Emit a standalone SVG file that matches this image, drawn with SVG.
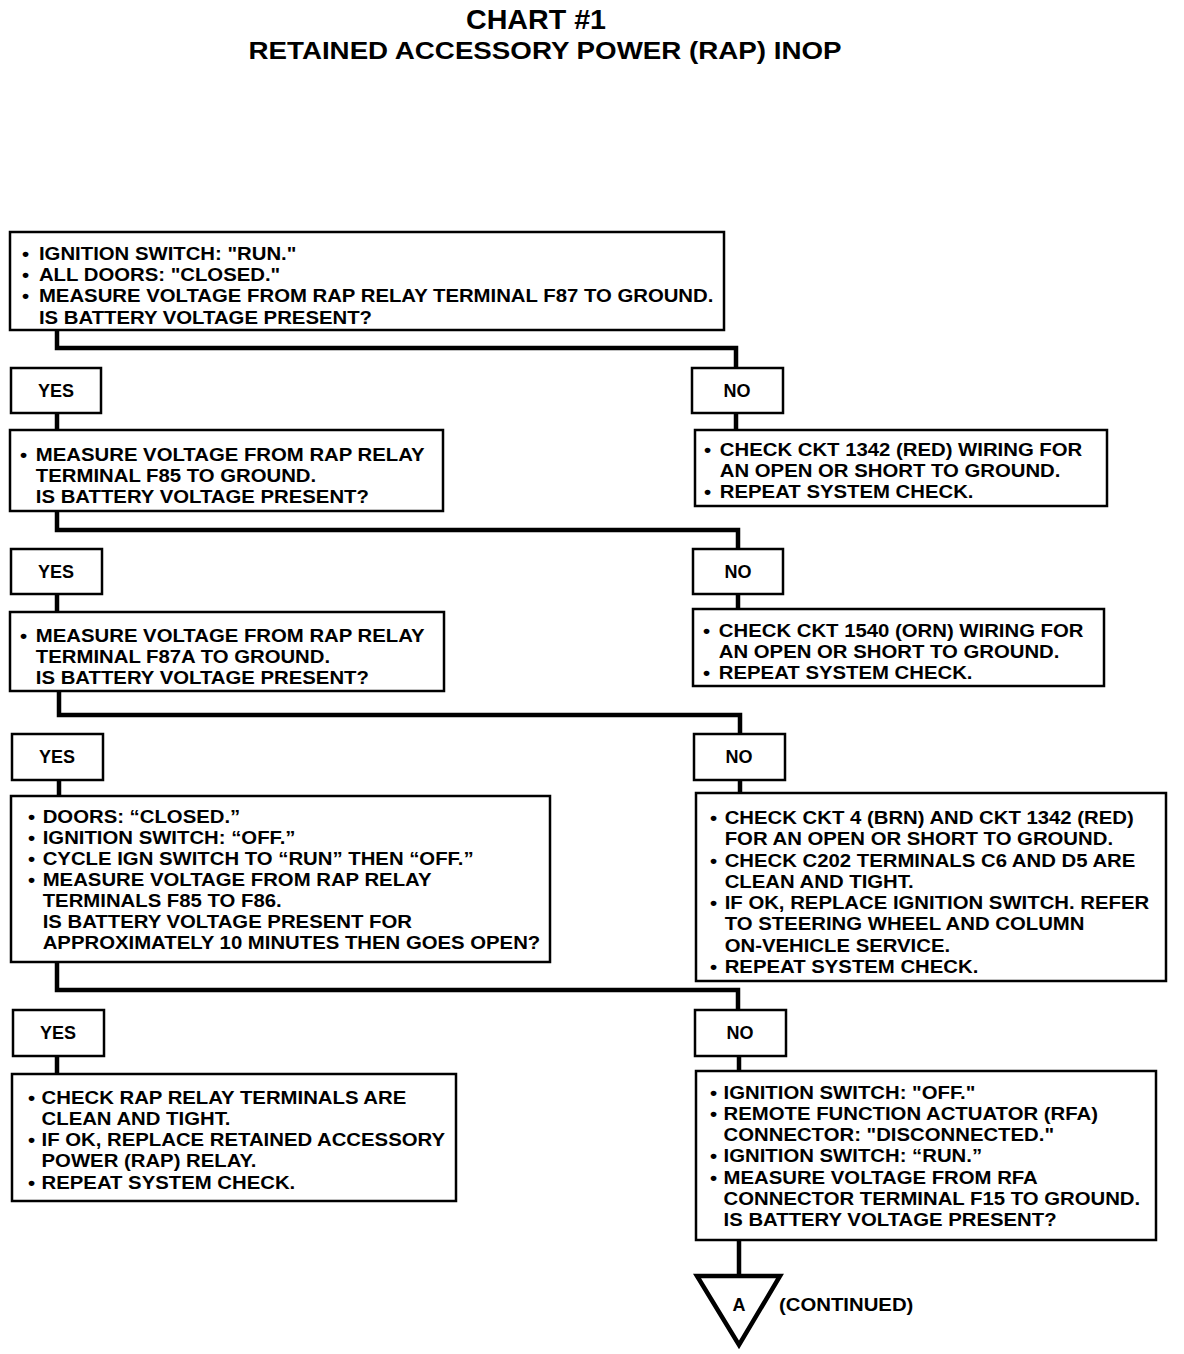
<svg xmlns="http://www.w3.org/2000/svg" width="1184" height="1354" viewBox="0 0 1184 1354">
<style>
.bx{fill:#fff;stroke:#000;stroke-width:2.5}
.t{font-family:"Liberation Sans",Arial,sans-serif;font-weight:bold;font-size:18px;fill:#000}
.c{text-anchor:middle}
.ln{fill:none;stroke:#000;stroke-width:4.5}
.ttl{font-family:"Liberation Sans",Arial,sans-serif;font-weight:bold;fill:#000;text-anchor:middle}
</style>
<rect width="1184" height="1354" fill="#fff"/>
<text class="ttl" x="536" y="29" font-size="28" textLength="140" lengthAdjust="spacingAndGlyphs">CHART #1</text>
<text class="ttl" x="545" y="59" font-size="23" textLength="593" lengthAdjust="spacingAndGlyphs">RETAINED ACCESSORY POWER (RAP) INOP</text>

<g id="connectors">
<polyline class="ln" points="57,330 57,348 736,348 736,368"/>
<line class="ln" x1="57" y1="413" x2="57" y2="430"/>
<line class="ln" x1="736" y1="413" x2="736" y2="430"/>
<polyline class="ln" points="57,511 57,530 738,530 738,549"/>
<line class="ln" x1="57" y1="594" x2="57" y2="612"/>
<line class="ln" x1="738" y1="594" x2="738" y2="609"/>
<polyline class="ln" points="59,691 59,715 740,715 740,734"/>
<line class="ln" x1="59" y1="780" x2="59" y2="796"/>
<line class="ln" x1="740" y1="780" x2="740" y2="793"/>
<polyline class="ln" points="57,962 57,990 738,990 738,1010"/>
<line class="ln" x1="57" y1="1056" x2="57" y2="1074"/>
<line class="ln" x1="739" y1="1056" x2="739" y2="1071"/>
<line class="ln" x1="739" y1="1240" x2="739" y2="1276"/>
</g>

<g id="n1">
<rect class="bx" x="10" y="232" width="714" height="98"/>
<g transform="translate(22 0) scale(1.13 1)">
<text class="t" x="0" y="260">•</text><text class="t" x="15" y="260">IGNITION SWITCH: "RUN."</text>
<text class="t" x="0" y="281">•</text><text class="t" x="15" y="281">ALL DOORS: "CLOSED."</text>
<text class="t" x="0" y="302">•</text><text class="t" x="15" y="302">MEASURE VOLTAGE FROM RAP RELAY TERMINAL F87 TO GROUND.</text>
<text class="t" x="15" y="324">IS BATTERY VOLTAGE PRESENT?</text>
</g>
</g>

<g id="yes1"><rect class="bx" x="11" y="368" width="90" height="45"/><text class="t c" x="56" y="397">YES</text></g>
<g id="no1"><rect class="bx" x="692" y="368" width="91" height="45"/><text class="t c" x="737" y="397">NO</text></g>

<g id="n2">
<rect class="bx" x="10" y="430" width="433" height="81"/>
<g transform="translate(20 0) scale(1.13 1)">
<text class="t" x="0" y="461">•</text><text class="t" x="14" y="461">MEASURE VOLTAGE FROM RAP RELAY</text>
<text class="t" x="14" y="482">TERMINAL F85 TO GROUND.</text>
<text class="t" x="14" y="503">IS BATTERY VOLTAGE PRESENT?</text>
</g>
</g>
<g id="n2r">
<rect class="bx" x="695" y="430" width="412" height="76"/>
<g transform="translate(704 0) scale(1.13 1)">
<text class="t" x="0" y="456">•</text><text class="t" x="14" y="456">CHECK CKT 1342 (RED) WIRING FOR</text>
<text class="t" x="14" y="477">AN OPEN OR SHORT TO GROUND.</text>
<text class="t" x="0" y="498">•</text><text class="t" x="14" y="498">REPEAT SYSTEM CHECK.</text>
</g>
</g>

<g id="yes2"><rect class="bx" x="11" y="549" width="91" height="45"/><text class="t c" x="56" y="578">YES</text></g>
<g id="no2"><rect class="bx" x="693" y="549" width="90" height="45"/><text class="t c" x="738" y="578">NO</text></g>

<g id="n3">
<rect class="bx" x="10" y="612" width="434" height="79"/>
<g transform="translate(20 0) scale(1.13 1)">
<text class="t" x="0" y="642">•</text><text class="t" x="14" y="642">MEASURE VOLTAGE FROM RAP RELAY</text>
<text class="t" x="14" y="663">TERMINAL F87A TO GROUND.</text>
<text class="t" x="14" y="684">IS BATTERY VOLTAGE PRESENT?</text>
</g>
</g>
<g id="n3r">
<rect class="bx" x="693" y="609" width="411" height="77"/>
<g transform="translate(703 0) scale(1.13 1)">
<text class="t" x="0" y="637">•</text><text class="t" x="14" y="637">CHECK CKT 1540 (ORN) WIRING FOR</text>
<text class="t" x="14" y="658">AN OPEN OR SHORT TO GROUND.</text>
<text class="t" x="0" y="679">•</text><text class="t" x="14" y="679">REPEAT SYSTEM CHECK.</text>
</g>
</g>

<g id="yes3"><rect class="bx" x="12" y="734" width="91" height="46"/><text class="t c" x="57" y="763">YES</text></g>
<g id="no3"><rect class="bx" x="694" y="734" width="91" height="46"/><text class="t c" x="739" y="763">NO</text></g>

<g id="n4">
<rect class="bx" x="11" y="796" width="539" height="166"/>
<g transform="translate(28 0) scale(1.13 1)">
<text class="t" x="0" y="823">•</text><text class="t" x="13" y="823">DOORS: “CLOSED.”</text>
<text class="t" x="0" y="844">•</text><text class="t" x="13" y="844">IGNITION SWITCH: “OFF.”</text>
<text class="t" x="0" y="865">•</text><text class="t" x="13" y="865">CYCLE IGN SWITCH TO “RUN” THEN “OFF.”</text>
<text class="t" x="0" y="886">•</text><text class="t" x="13" y="886">MEASURE VOLTAGE FROM RAP RELAY</text>
<text class="t" x="13" y="907">TERMINALS F85 TO F86.</text>
<text class="t" x="13" y="928">IS BATTERY VOLTAGE PRESENT FOR</text>
<text class="t" x="13" y="949">APPROXIMATELY 10 MINUTES THEN GOES OPEN?</text>
</g>
</g>
<g id="n4r">
<rect class="bx" x="696" y="793" width="470" height="188"/>
<g transform="translate(710 0) scale(1.13 1)">
<text class="t" x="0" y="824">•</text><text class="t" x="13" y="824">CHECK CKT 4 (BRN) AND CKT 1342 (RED)</text>
<text class="t" x="13" y="845">FOR AN OPEN OR SHORT TO GROUND.</text>
<text class="t" x="0" y="867">•</text><text class="t" x="13" y="867">CHECK C202 TERMINALS C6 AND D5 ARE</text>
<text class="t" x="13" y="888">CLEAN AND TIGHT.</text>
<text class="t" x="0" y="909">•</text><text class="t" x="13" y="909">IF OK, REPLACE IGNITION SWITCH. REFER</text>
<text class="t" x="13" y="930">TO STEERING WHEEL AND COLUMN</text>
<text class="t" x="13" y="952">ON-VEHICLE SERVICE.</text>
<text class="t" x="0" y="973">•</text><text class="t" x="13" y="973">REPEAT SYSTEM CHECK.</text>
</g>
</g>

<g id="yes4"><rect class="bx" x="13" y="1010" width="91" height="46"/><text class="t c" x="58" y="1039">YES</text></g>
<g id="no4"><rect class="bx" x="695" y="1010" width="91" height="46"/><text class="t c" x="740" y="1039">NO</text></g>

<g id="n5">
<rect class="bx" x="12" y="1074" width="444" height="127"/>
<g transform="translate(28 0) scale(1.13 1)">
<text class="t" x="0" y="1104">•</text><text class="t" x="12" y="1104">CHECK RAP RELAY TERMINALS ARE</text>
<text class="t" x="12" y="1125">CLEAN AND TIGHT.</text>
<text class="t" x="0" y="1146">•</text><text class="t" x="12" y="1146">IF OK, REPLACE RETAINED ACCESSORY</text>
<text class="t" x="12" y="1167">POWER (RAP) RELAY.</text>
<text class="t" x="0" y="1189">•</text><text class="t" x="12" y="1189">REPEAT SYSTEM CHECK.</text>
</g>
</g>
<g id="n5r">
<rect class="bx" x="696" y="1071" width="460" height="169"/>
<g transform="translate(710 0) scale(1.13 1)">
<text class="t" x="0" y="1099">•</text><text class="t" x="12" y="1099">IGNITION SWITCH: "OFF."</text>
<text class="t" x="0" y="1120">•</text><text class="t" x="12" y="1120">REMOTE FUNCTION ACTUATOR (RFA)</text>
<text class="t" x="12" y="1141">CONNECTOR: "DISCONNECTED."</text>
<text class="t" x="0" y="1162">•</text><text class="t" x="12" y="1162">IGNITION SWITCH: “RUN.”</text>
<text class="t" x="0" y="1184">•</text><text class="t" x="12" y="1184">MEASURE VOLTAGE FROM RFA</text>
<text class="t" x="12" y="1205">CONNECTOR TERMINAL F15 TO GROUND.</text>
<text class="t" x="12" y="1226">IS BATTERY VOLTAGE PRESENT?</text>
</g>
</g>

<g id="offpageA">
<polygon points="697,1276 780,1276 739,1345" fill="#fff" stroke="#000" stroke-width="4.5" stroke-linejoin="miter"/>
<text class="t c" x="739" y="1311">A</text>
<g transform="translate(779 0) scale(1.13 1)"><text class="t" x="0" y="1311">(CONTINUED)</text></g>
</g>
</svg>
